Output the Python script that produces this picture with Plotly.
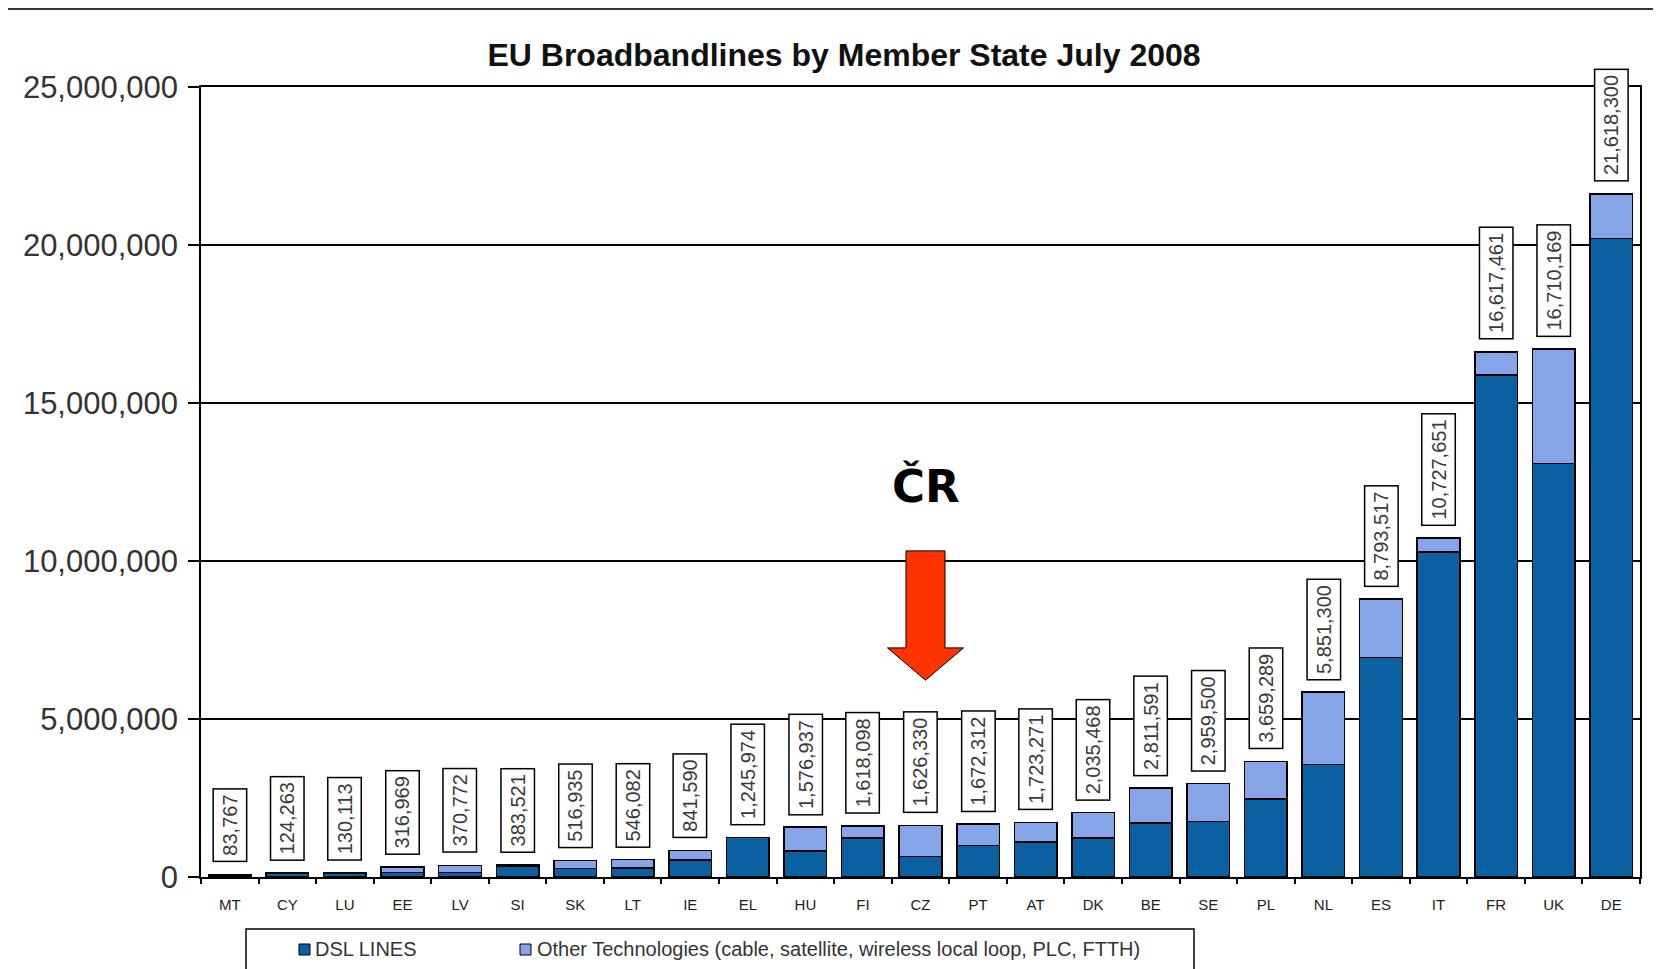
import plotly.graph_objects as go

# ---------------- data ----------------
countries = ["MT", "CY", "LU", "EE", "LV", "SI", "SK", "LT", "IE", "EL", "HU", "FI", "CZ",
             "PT", "AT", "DK", "BE", "SE", "PL", "NL", "ES", "IT", "FR", "UK", "DE"]
totals = [83767, 124263, 130113, 316969, 370772, 383521, 516935, 546082, 841590, 1245974,
          1576937, 1618098, 1626330, 1672312, 1723271, 2035468, 2811591, 2959500, 3659289,
          5851300, 8793517, 10727651, 16617461, 16710169, 21618300]
dsl_lines = [65000, 105000, 115000, 150000, 150000, 350000, 275000, 290000, 540000, 1245974,
             820000, 1240000, 650000, 995000, 1110000, 1230000, 1705000, 1760000, 2465000,
             3560000, 6945000, 10290000, 15880000, 13090000, 20210000]
other_tech = [18767, 19263, 15113, 166969, 220772, 33521, 241935, 256082, 301590, 0,
              756937, 378098, 976330, 677312, 613271, 805468, 1106591, 1199500, 1194289,
              2291300, 1848517, 437651, 737461, 3620169, 1408300]
y_ticks = [0, 5000000, 10000000, 15000000, 20000000, 25000000]
series_names = ["DSL LINES", "Other Technologies (cable, satellite, wireless local loop, PLC, FTTH)"]
title_text = "EU Broadbandlines by Member State July 2008"
highlight = "CZ"
highlight_label = "ČR"

# ---------------- style ----------------
DSL_COLOR = "#0A60A0"
OTHER_COLOR = "#86A4E8"
FONT = "Liberation Sans, Arial, sans-serif"
W, H = 1661, 969
OFF = 8  # page body margin
# plot area in page pixels
P_LEFT, P_RIGHT, P_TOP, P_BOTTOM = 201, 1640, 87, 877
L = P_LEFT - OFF
T = P_TOP - OFF
R = W - (P_RIGHT - OFF)
B = H - (P_BOTTOM - OFF)
PW, PH = P_RIGHT - P_LEFT, P_BOTTOM - P_TOP


def px_x(px):
    return (px - P_LEFT) / PW


def px_y(py):
    return (P_BOTTOM - py) / PH


fig = go.Figure()
fig.add_trace(go.Bar(x=countries, y=dsl_lines, name=series_names[0],
                     marker=dict(color=DSL_COLOR, line=dict(color="black", width=1.5))))
fig.add_trace(go.Bar(x=countries, y=other_tech, name=series_names[1],
                     marker=dict(color=OTHER_COLOR, line=dict(color="black", width=1.5))))

annotations = []
for c, t in zip(countries, totals):
    annotations.append(dict(
        x=c, y=t, xref="x", yref="y", text=f"{t:,}", showarrow=False,
        textangle=-90, yanchor="bottom", xanchor="center", yshift=12,
        bgcolor="white", bordercolor="black", borderwidth=1.5, borderpad=5,
        font=dict(family=FONT, size=20, color="#3a3a3a")))

# highlight arrow (red) above CZ
n = len(countries)
idx = countries.index(highlight)
cx = (idx + 0.5) / n + 5 / PW
shaft = 19.5 / PW
head = 38 / PW
y_top, y_neck, y_tip = 10.32e6, 7.25e6, 6.23e6
path = (f"M {cx - shaft},{y_top} L {cx + shaft},{y_top} L {cx + shaft},{y_neck} "
        f"L {cx + head},{y_neck} L {cx},{y_tip} L {cx - head},{y_neck} "
        f"L {cx - shaft},{y_neck} Z")
shapes = [
    dict(type="path", xref="paper", yref="y", path=path, fillcolor="#FF3300",
         line=dict(color="black", width=1)),
    # top header rule
    dict(type="line", xref="paper", yref="paper", x0=px_x(0), x1=px_x(W + OFF),
         y0=px_y(8.5), y1=px_y(8.5), line=dict(color="#333333", width=3)),
    # legend box
    dict(type="rect", xref="paper", yref="paper", x0=px_x(246), x1=px_x(1194),
         y0=px_y(929), y1=px_y(995), line=dict(color="black", width=1.5),
         fillcolor="rgba(0,0,0,0)"),
    # legend swatches
    dict(type="rect", xref="paper", yref="paper", x0=px_x(299), x1=px_x(310),
         y0=px_y(944), y1=px_y(955), fillcolor=DSL_COLOR, line=dict(color="black", width=1)),
    dict(type="rect", xref="paper", yref="paper", x0=px_x(520), x1=px_x(531),
         y0=px_y(944), y1=px_y(955), fillcolor=OTHER_COLOR, line=dict(color="black", width=1)),
]
annotations.append(dict(
    x=cx, y=12.37e6, xref="paper", yref="y", text=f"<b>{highlight_label}</b>",
    showarrow=False, xanchor="center", yanchor="middle",
    font=dict(family="DejaVu Sans, Verdana, sans-serif", size=45, color="black")))
annotations.append(dict(
    x=px_x(313), y=px_y(949), xref="paper", yref="paper", text=series_names[0],
    showarrow=False, xanchor="left", yanchor="middle",
    font=dict(family=FONT, size=20, color="#333333")))
annotations.append(dict(
    x=px_x(535), y=px_y(949), xref="paper", yref="paper", text=series_names[1],
    showarrow=False, xanchor="left", yanchor="middle",
    font=dict(family=FONT, size=20, color="#333333")))

fig.update_layout(
    width=W, height=H,
    margin=dict(l=L, r=R, t=T, b=B, autoexpand=False),
    paper_bgcolor="white", plot_bgcolor="white",
    barmode="stack", bargap=0.26,
    showlegend=False,
    title=dict(text=f"<b>{title_text}</b>", x=(844 - OFF) / W, y=1 - (55 - OFF) / H,
               xref="container", yref="container", xanchor="center", yanchor="middle",
               font=dict(family=FONT, size=32, color="#111111")),
    xaxis=dict(type="category", range=[-0.5, n - 0.5], showline=True, linecolor="black",
               linewidth=1.5, mirror=True, ticks="outside", tickson="boundaries",
               ticklen=5, tickwidth=1.5, tickcolor="black", showgrid=False,
               ticklabelstandoff=13,
               tickfont=dict(family=FONT, size=15, color="#222222")),
    yaxis=dict(range=[0, 25000000], tickvals=y_ticks, tickformat=",d",
               showgrid=True, gridcolor="black", gridwidth=1.5, zeroline=False,
               showline=True, linecolor="black", linewidth=1.5, mirror=True,
               ticks="outside", ticklen=11, tickwidth=1.5, tickcolor="black",
               ticklabelstandoff=4,
               tickfont=dict(family=FONT, size=31, color="#333333")),
    shapes=shapes,
    annotations=annotations,
)

fig.write_html("out.html")
